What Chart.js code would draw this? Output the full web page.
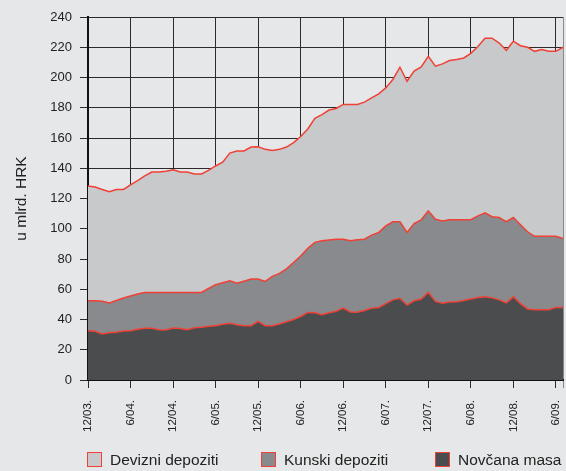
<!DOCTYPE html>
<html>
<head>
<meta charset="utf-8">
<script src="https://cdn.jsdelivr.net/npm/chart.js@4/dist/chart.umd.min.js"></script>
<style>
  body { margin: 0; background: #e6e7e8; font-family: "Liberation Sans", Arial, sans-serif; }
  #wrap { position: relative; width: 566px; height: 471px; }
  #legend { position: absolute; left: 0; top: 452px; width: 566px; height: 18px; }
  .item { position: absolute; top: 0; height: 16px; font-size: 15.5px; color: #222; white-space: nowrap; }
  .box { position: absolute; left: 0; top: 0; width: 13px; height: 13px; border: 1.5px solid #ef4136; }
  .txt { position: absolute; left: 23px; top: -1px; line-height: 18px; }
</style>
</head>
<body>
<div id="wrap">
  <canvas id="myChart" width="566" height="471"></canvas>
  <div id="legend"></div>
</div>
<script>
//Data
const months = [
  "12/03.",
  "1/04.", "2/04.", "3/04.", "4/04.", "5/04.", "6/04.", "7/04.", "8/04.", "9/04.", "10/04.", "11/04.", "12/04.",
  "1/05.", "2/05.", "3/05.", "4/05.", "5/05.", "6/05.", "7/05.", "8/05.", "9/05.", "10/05.", "11/05.", "12/05.",
  "1/06.", "2/06.", "3/06.", "4/06.", "5/06.", "6/06.", "7/06.", "8/06.", "9/06.", "10/06.", "11/06.", "12/06.",
  "1/07.", "2/07.", "3/07.", "4/07.", "5/07.", "6/07.", "7/07.", "8/07.", "9/07.", "10/07.", "11/07.", "12/07.",
  "1/08.", "2/08.", "3/08.", "4/08.", "5/08.", "6/08.", "7/08.", "8/08.", "9/08.", "10/08.", "11/08.", "12/08.",
  "1/09.", "2/09.", "3/09.", "4/09.", "5/09.", "6/09.", "7/09."
];

const novcanaMasa = [
  32.6, 32.2, 30.5, 31.3, 31.5, 32.4, 32.6, 33.6, 34.2, 34.2,
  33.2, 33.1, 34.4, 34, 33.3, 34.6, 34.8, 35.5, 35.9, 36.8,
  37.5, 36.5, 35.9, 35.9, 38.8, 35.9, 35.9, 37, 38.5, 40,
  42, 44.7, 44.5, 43.2, 44.5, 45.5, 47.5, 45, 44.8, 46,
  47.5, 48, 50.5, 53, 54, 49.5, 52.4, 53.5, 57.9, 52,
  50.7, 51.5, 51.8, 52.5, 53.5, 54.6, 55.1, 54.3, 53, 51,
  55, 50.5, 47, 46.5, 46.5, 46.5, 48, 48
];

const kunskiDepoziti = [
  19.8, 20.2, 21.5, 19.6, 21.1, 21.8, 22.9, 23.2, 23.7, 23.7,
  24.7, 24.8, 23.5, 23.9, 24.6, 23.3, 23.1, 25, 27.1, 27.5,
  28.1, 27.5, 29.4, 30.8, 27.9, 29.3, 32.6, 33.5, 35, 37.7,
  40, 42.3, 46.5, 48.8, 48, 47.5, 45.5, 47, 47.9, 47.1,
  48.3, 49.5, 51.4, 51.6, 50.6, 48, 51, 52.4, 53.9, 54.3,
  54.5, 54.5, 54.2, 53.5, 52.5, 53.9, 55.4, 53.7, 54.4, 53.7,
  52.4, 52.1, 51, 48.5, 48.5, 48.5, 47, 45.5
];

const devizniDepoziti = [
  75.9, 75.2, 74, 73.6, 73.4, 71.8, 73.5, 75, 77, 79.6,
  79.6, 80.1, 81.1, 79.6, 79.6, 78.3, 78.3, 78.1, 78.5, 79.7,
  84.4, 87.4, 86.1, 87.3, 87.5, 87.3, 83.3, 82, 80.5, 79.2,
  79, 79, 82, 83.5, 86, 86.5, 89.2, 90.2, 89.5, 90.6,
  90.7, 91.7, 91.2, 94.1, 102.2, 100, 100.8, 101.1, 102.2, 101.2,
  103.8, 105.2, 105.9, 106.9, 110, 112, 115.5, 118, 115.4, 113.3,
  116.6, 118.4, 122, 122.3, 123.5, 122.3, 122.3, 126.5
];

const yTicks = [0, 20, 40, 60, 80, 100, 120, 140, 160, 180, 200, 220, 240];

const lineRed = "#ef4136";
const gridColor = "#2b2b2b";
const fontFamily = '"Liberation Sans", Arial, sans-serif';

//Rendering Chart
const ctx = document.getElementById("myChart").getContext("2d");

const chartData = {
  labels: months,
  datasets: [
    { label: "Novčana masa", data: novcanaMasa, backgroundColor: "#4b4c4e", fill: "origin" },
    { label: "Kunski depoziti", data: kunskiDepoziti, backgroundColor: "#898a8d", fill: "-1" },
    { label: "Devizni depoziti", data: devizniDepoziti, backgroundColor: "#c8c9cb", fill: "-1" },
  ],
};
chartData.datasets.forEach(function (d) {
  d.borderColor = lineRed;
  d.borderWidth = 1.5;
  d.pointRadius = 0;
  d.tension = 0;
});

const config = {
  type: "line",
  data: chartData,
  options: {
    responsive: false,
    animation: false,
    layout: { padding: { top: 17, right: 3, left: 0, bottom: 0 } },
    plugins: { legend: { display: false }, tooltip: { enabled: false } },
    scales: {
      x: {
        stacked: true,
        offset: false,
        // fixed box so the plot area matches the original
        afterFit: function (s) { s.height = 91; s.paddingLeft = 0; s.paddingRight = 0; },
        grid: {
          color: function (c) {
            if (c.index === months.length - 1) return "#8a8a8a";
            return c.index % 6 === 0 ? gridColor : "transparent";
          },
          lineWidth: 1,
          tickLength: 8,
        },
        border: { color: "#111", width: 2 },
        ticks: {
          autoSkip: false,
          minRotation: 90,
          maxRotation: 90,
          padding: 12,
          color: "#222",
          font: { family: fontFamily, size: 11.5 },
          callback: function (v, i) { return i % 6 === 0 ? months[i] : ""; },
        },
      },
      y: {
        stacked: true,
        min: 0,
        max: 240,
        afterFit: function (s) { s.width = 88; },
        afterBuildTicks: function (s) { s.ticks = yTicks.map(function (v) { return { value: v }; }); },
        grid: { color: gridColor, lineWidth: 1, tickLength: 8 },
        border: { color: "#111", width: 2 },
        ticks: { padding: 8, color: "#222", font: { family: fontFamily, size: 13 } },
        title: {
          display: true,
          text: "u mlrd. HRK",
          color: "#222",
          padding: { top: 12, bottom: 4 },
          font: { family: fontFamily, size: 15.5 },
        },
      },
    },
  },
};

const myChart = new Chart(ctx, config);

//Legend
const legendEl = document.getElementById("legend");
const legendLeft = [87, 261, 435];
let temp = "";
for (let i = 0; i < 3; i++) {
  let ds = chartData.datasets[2 - i];
  temp += `<div class="item" style="left:${legendLeft[i]}px">
    <div class="box" style="background:${ds.backgroundColor}"></div>
    <span class="txt">${ds.label}</span></div>`;
}
legendEl.innerHTML = temp;
</script>
</body>
</html>
